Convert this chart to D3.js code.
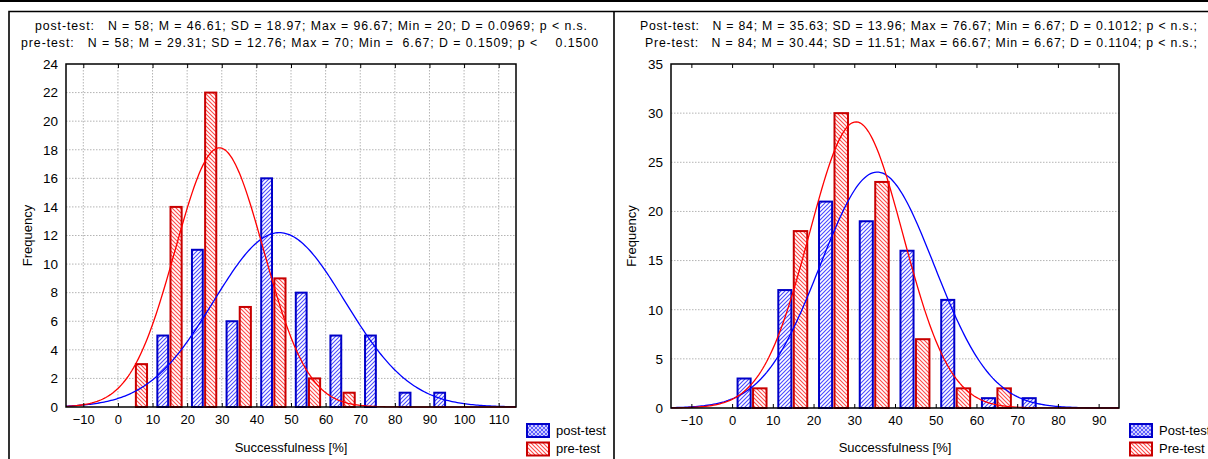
<!DOCTYPE html>
<html>
<head>
<meta charset="utf-8">
<script src="https://cdn.jsdelivr.net/npm/d3@7"></script>
<style>
  body { margin: 0; background: #fff; }
  svg { display: block; font-family: Arial, "Liberation Sans", sans-serif; }
</style>
</head>
<body>
<svg id="chart" width="1208" height="459"></svg>
<script>
// bins of width 10, given by lower bound
const binsLeft = [0, 10, 20, 30, 40, 50, 60, 70, 80, 90];
const postLeft = [0, 5, 11, 6, 16, 8, 5, 5, 1, 1];
const preLeft = [3, 14, 22, 7, 9, 2, 1, 0, 0, 0];

const binsRight = [0, 10, 20, 30, 40, 50, 60, 70];
const postRight = [3, 12, 21, 19, 16, 11, 1, 1];
const preRight = [2, 18, 30, 23, 7, 2, 2, 0];

// fitted normal curves: N, mean, SD
const fitPostLeft = [58, 46.61, 18.97];
const fitPreLeft = [58, 29.31, 12.76];
const fitPostRight = [84, 35.63, 13.96];
const fitPreRight = [84, 30.44, 11.51];

const xTicksLeft = [-10, 0, 10, 20, 30, 40, 50, 60, 70, 80, 90, 100, 110];
const yTicksLeft = [0, 2, 4, 6, 8, 10, 12, 14, 16, 18, 20, 22, 24];
const xTicksRight = [-10, 0, 10, 20, 30, 40, 50, 60, 70, 80, 90];
const yTicksRight = [0, 5, 10, 15, 20, 25, 30, 35];

const statsLeft = [
    "post-test:   N = 58; M = 46.61; SD = 18.97; Max = 96.67; Min = 20; D = 0.0969; p < n.s.",
    "pre-test:   N = 58; M = 29.31; SD = 12.76; Max = 70; Min =  6.67; D = 0.1509; p <    0.1500"
];
const statsRight = [
    "Post-test:   N = 84; M = 35.63; SD = 13.96; Max = 76.67; Min = 6.67; D = 0.1012; p < n.s.;",
    "Pre-test:   N = 84; M = 30.44; SD = 11.51; Max = 66.67; Min = 6.67; D = 0.1104; p < n.s.;"
];
const legendLeft = ["post-test", "pre-test"];
const legendRight = ["Post-test", "Pre-test"];

// where each stats line sits: [left edge, right edge]
const statsBoxLeft = [[35, 587], [21, 598]];
const statsBoxRight = [[640, 1197], [645, 1197]];

const svg = d3.select("#chart");

// hatch patterns
const defs = svg.append("defs");
function hatch(id, color, dir) {
    const p = defs.append("pattern")
        .attr("id", id)
        .attr("patternUnits", "userSpaceOnUse")
        .attr("width", 4).attr("height", 4);
    p.append("rect").attr("width", 4).attr("height", 4).attr("fill", "#fff");
    if (dir !== "\\") {
        p.append("path").attr("d", "M-1,1 l2,-2 M0,4 l4,-4 M3,5 l2,-2")
            .attr("stroke", color).attr("stroke-width", 1.1);
    }
    if (dir !== "/") {
        p.append("path").attr("d", "M-1,3 l2,2 M0,0 l4,4 M3,-1 l2,2")
            .attr("stroke", color).attr("stroke-width", 1.1);
    }
}
hatch("hBlue", "#4a4aff", "/");
hatch("hRed", "#ff4a4a", "\\");
hatch("hBlueX", "#5a5aff", "x");

// page frame
svg.append("rect").attr("x", 0).attr("y", 0).attr("width", 1208).attr("height", 2).attr("fill", "#000");
svg.append("path")
    .attr("d", "M9,459 V11.5 H1208 M614,11.5 V459")
    .attr("fill", "none").attr("stroke", "#000").attr("stroke-width", 1.6);

function panel(o) {
    const g = svg.append("g");
    const x = d3.scaleLinear().domain(o.xDomain).range([o.left, o.right]);
    const y = d3.scaleLinear().domain(o.yDomain).range([o.bottom, o.top]);

    // stats lines
    g.selectAll(".stat").data(o.stats).enter().append("text")
        .attr("x", (d, i) => o.statsBox[i][0])
        .attr("y", (d, i) => 30 + i * 17)
        .attr("font-size", 12.3)
        .attr("textLength", (d, i) => o.statsBox[i][1] - o.statsBox[i][0])
        .attr("lengthAdjust", "spacing")
        .attr("xml:space", "preserve")
        .style("white-space", "pre")
        .text(d => d);

    // grid
    const innerY = o.yTicks.slice(1, -1);
    g.selectAll(".gy").data(innerY).enter().append("line")
        .attr("x1", o.left).attr("x2", o.right)
        .attr("y1", d => y(d)).attr("y2", d => y(d))
        .attr("stroke", "#b4b4b4").attr("stroke-dasharray", "1.5,1.5");
    if (o.vGrid) {
        g.selectAll(".gx").data(o.xTicks).enter().append("line")
            .attr("x1", d => x(d)).attr("x2", d => x(d))
            .attr("y1", o.top).attr("y2", o.bottom)
            .attr("stroke", "#b4b4b4").attr("stroke-dasharray", "1.5,1.5");
    }

    // bars
    const post = o.bins.map((b, i) => ({ b, v: o.post[i] })).filter(d => d.v > 0);
    const pre = o.bins.map((b, i) => ({ b, v: o.pre[i] })).filter(d => d.v > 0);
    g.selectAll(".bp").data(post).enter().append("rect")
        .attr("x", d => x(d.b + 1.1) + 1)
        .attr("y", d => y(d.v))
        .attr("width", d => x(d.b + 4.8) - x(d.b + 1.1) - 2)
        .attr("height", d => y(0) - y(d.v))
        .attr("fill", "url(#hBlue)")
        .attr("stroke", "#0000c8").attr("stroke-width", 2);
    g.selectAll(".br").data(pre).enter().append("rect")
        .attr("x", d => x(d.b + 4.9) + 1)
        .attr("y", d => y(d.v))
        .attr("width", d => x(d.b + 8.7) - x(d.b + 4.9) - 2)
        .attr("height", d => y(0) - y(d.v))
        .attr("fill", "url(#hRed)")
        .attr("stroke", "#c80000").attr("stroke-width", 2);

    // fitted normal curves
    const xs = d3.range(o.xDomain[0], o.xDomain[1] + 0.01, 0.5);
    function curve(fit, color) {
        const [n, m, sd] = fit;
        const pts = xs.map(v => [v, n * 10 * Math.exp(-0.5 * ((v - m) / sd) ** 2) / (sd * Math.sqrt(2 * Math.PI))]);
        g.append("path")
            .datum(pts)
            .attr("d", d3.line().x(d => x(d[0])).y(d => y(d[1])))
            .attr("fill", "none").attr("stroke", color).attr("stroke-width", 1.3);
    }
    curve(o.fitPost, "#0000ff");
    curve(o.fitPre, "#ff0000");

    // frame
    g.append("rect")
        .attr("x", o.left).attr("y", o.top)
        .attr("width", o.right - o.left).attr("height", o.bottom - o.top)
        .attr("fill", "none").attr("stroke", "#000").attr("stroke-width", 1.5);

    // axes
    const ax = g.append("g")
        .attr("transform", `translate(0,${o.bottom})`)
        .call(d3.axisBottom(x).tickValues(o.xTicks).tickSize(-4).tickPadding(8).tickFormat(d3.format("d")));
    ax.select(".domain").remove();
    ax.selectAll("text").attr("font-size", 13).attr("fill", "#000").attr("font-family", null);
    const axTop = g.append("g")
        .attr("transform", `translate(0,${o.top})`)
        .call(d3.axisTop(x).tickValues(o.xTicks).tickSize(-4).tickFormat(""));
    axTop.select(".domain").remove();

    const ay = g.append("g")
        .attr("transform", `translate(${o.left},0)`)
        .call(d3.axisLeft(y).tickValues(o.yTicks).tickSize(0).tickPadding(8));
    ay.select(".domain").remove();
    ay.selectAll("text").attr("font-size", 13.5).attr("fill", "#000").attr("font-family", null);

    // axis titles
    g.append("text")
        .attr("transform", `translate(${o.yTitleX},${(o.top + o.bottom) / 2}) rotate(-90)`)
        .attr("text-anchor", "middle")
        .attr("font-size", 13)
        .text("Frequency");
    g.append("text")
        .attr("x", (o.left + o.right) / 2)
        .attr("y", 452)
        .attr("text-anchor", "middle")
        .attr("font-size", 13)
        .text("Successfulness [%]");

    // legend
    const fills = ["url(#hBlueX)", "url(#hRed)"];
    const strokes = ["#0000c8", "#c80000"];
    o.legend.forEach((t, i) => {
        g.append("rect")
            .attr("x", o.right + 11).attr("y", 424 + i * 18.5)
            .attr("width", 22).attr("height", 13)
            .attr("fill", fills[i]).attr("stroke", strokes[i]).attr("stroke-width", 2);
        g.append("text")
            .attr("x", o.right + 40).attr("y", 435 + i * 18)
            .attr("font-size", 13)
            .text(t);
    });
}

panel({
    left: 66, right: 516, top: 64, bottom: 407, yTitleX: 32,
    xDomain: [-15, 115], yDomain: [0, 24],
    xTicks: xTicksLeft, yTicks: yTicksLeft, vGrid: true,
    bins: binsLeft, post: postLeft, pre: preLeft,
    fitPost: fitPostLeft, fitPre: fitPreLeft,
    stats: statsLeft, statsBox: statsBoxLeft, legend: legendLeft
});

panel({
    left: 671, right: 1119, top: 64, bottom: 408, yTitleX: 636,
    xDomain: [-15, 95], yDomain: [0, 35],
    xTicks: xTicksRight, yTicks: yTicksRight, vGrid: false,
    bins: binsRight, post: postRight, pre: preRight,
    fitPost: fitPostRight, fitPre: fitPreRight,
    stats: statsRight, statsBox: statsBoxRight, legend: legendRight
});
</script>
</body>
</html>
